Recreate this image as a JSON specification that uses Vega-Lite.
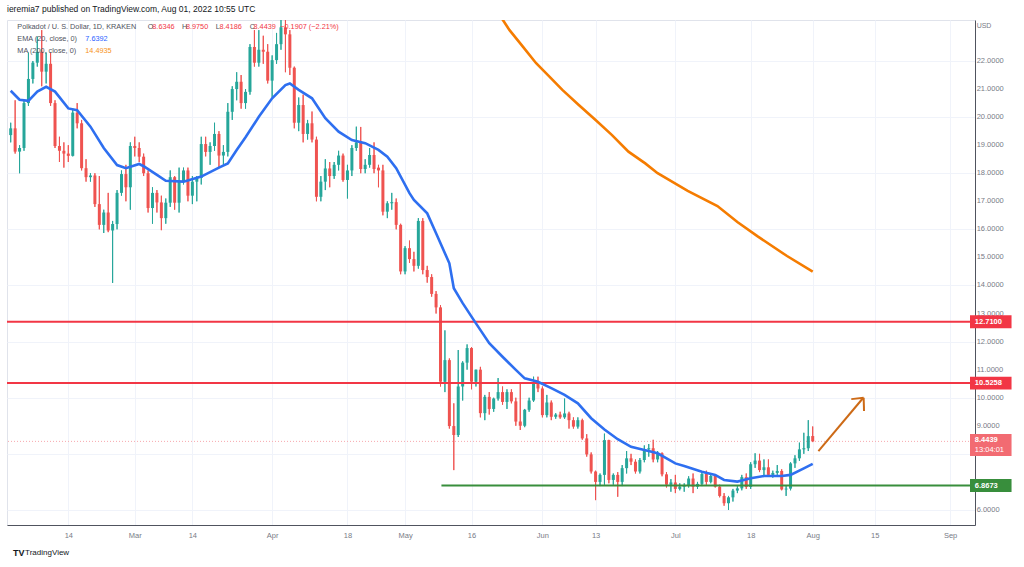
{
"$schema": "https://vega.github.io/schema/vega-lite/v6.json",
"width": 968, "height": 505,
"autosize": "none",
"padding": {"left": 7, "top": 20, "right": 49, "bottom": 42},
"background": "white",
"title": {"text": "ieremia7 published on TradingView.com, Aug 01, 2022 10:55 UTC", "anchor": "start", "frame": "group", "fontSize": 8.5, "fontWeight": "normal", "font": "Liberation Sans", "color": "#131722", "offset": 7},
"config": {
  "view": {"stroke": "#e0e3eb"},
  "axis": {"zindex": 0, "labelFont": "Liberation Sans", "labelFontSize": 7.5, "labelColor": "#787b86", "gridColor": "#f0f3fa", "gridWidth": 1, "domainColor": "#50535e", "ticks": false},
  "text": {"font": "Liberation Sans"}
},
"datasets": {
"yticks": [{"t":6},{"t":9},{"t":10},{"t":11},{"t":12},{"t":13},{"t":14},{"t":15},{"t":16},{"t":17},{"t":18},{"t":19},{"t":20},{"t":21},{"t":22}],
"candles": [
{"d":"2022-02-01","o":19.36,"h":19.8,"l":19.1,"c":19.6},
{"d":"2022-02-02","o":19.6,"h":20.6,"l":18.7,"c":18.77},
{"d":"2022-02-03","o":18.77,"h":19.0,"l":18.0,"c":18.9},
{"d":"2022-02-04","o":18.9,"h":20.6,"l":18.8,"c":20.5},
{"d":"2022-02-05","o":20.5,"h":22.3,"l":20.4,"c":21.36},
{"d":"2022-02-06","o":21.36,"h":22.0,"l":21.2,"c":21.94},
{"d":"2022-02-07","o":21.94,"h":22.87,"l":21.8,"c":22.33},
{"d":"2022-02-08","o":22.33,"h":23.1,"l":21.1,"c":21.62},
{"d":"2022-02-09","o":21.62,"h":22.3,"l":21.2,"c":21.9},
{"d":"2022-02-10","o":21.9,"h":22.3,"l":20.4,"c":20.5},
{"d":"2022-02-11","o":20.5,"h":20.6,"l":18.9,"c":18.97},
{"d":"2022-02-12","o":18.97,"h":19.3,"l":18.4,"c":18.8},
{"d":"2022-02-13","o":18.8,"h":19.1,"l":18.2,"c":18.7},
{"d":"2022-02-14","o":18.7,"h":19.0,"l":18.4,"c":18.62},
{"d":"2022-02-15","o":18.62,"h":20.3,"l":18.6,"c":20.16},
{"d":"2022-02-16","o":20.16,"h":20.5,"l":19.6,"c":19.78},
{"d":"2022-02-17","o":19.78,"h":19.9,"l":18.1,"c":18.18},
{"d":"2022-02-18","o":18.18,"h":18.5,"l":17.7,"c":17.86},
{"d":"2022-02-19","o":17.86,"h":18.0,"l":17.7,"c":17.92},
{"d":"2022-02-20","o":17.92,"h":18.0,"l":16.8,"c":16.9},
{"d":"2022-02-21","o":16.9,"h":17.9,"l":16.0,"c":16.16},
{"d":"2022-02-22","o":16.16,"h":16.7,"l":15.87,"c":16.6},
{"d":"2022-02-23","o":16.6,"h":17.3,"l":15.9,"c":15.96},
{"d":"2022-02-24","o":15.96,"h":16.3,"l":14.09,"c":16.19},
{"d":"2022-02-25","o":16.19,"h":17.4,"l":16.0,"c":17.3},
{"d":"2022-02-26","o":17.3,"h":18.1,"l":17.2,"c":17.97},
{"d":"2022-02-27","o":17.97,"h":18.3,"l":17.0,"c":17.5},
{"d":"2022-02-28","o":17.5,"h":19.1,"l":16.7,"c":18.97},
{"d":"2022-03-01","o":18.97,"h":19.3,"l":18.6,"c":18.9},
{"d":"2022-03-02","o":18.9,"h":19.1,"l":18.4,"c":18.59},
{"d":"2022-03-03","o":18.59,"h":18.7,"l":17.9,"c":18.0},
{"d":"2022-03-04","o":18.0,"h":18.1,"l":16.6,"c":16.76},
{"d":"2022-03-05","o":16.76,"h":17.5,"l":16.2,"c":17.3},
{"d":"2022-03-06","o":17.3,"h":17.4,"l":16.6,"c":16.96},
{"d":"2022-03-07","o":16.96,"h":17.2,"l":15.97,"c":16.4},
{"d":"2022-03-08","o":16.4,"h":17.1,"l":16.2,"c":16.95},
{"d":"2022-03-09","o":16.95,"h":18.1,"l":16.8,"c":17.86},
{"d":"2022-03-10","o":17.86,"h":17.9,"l":16.7,"c":16.95},
{"d":"2022-03-11","o":16.95,"h":18.2,"l":16.6,"c":17.7},
{"d":"2022-03-12","o":17.7,"h":18.2,"l":17.6,"c":18.1},
{"d":"2022-03-13","o":18.1,"h":18.2,"l":17.0,"c":17.2},
{"d":"2022-03-14","o":17.2,"h":17.9,"l":16.9,"c":17.7},
{"d":"2022-03-15","o":17.7,"h":17.9,"l":17.0,"c":17.83},
{"d":"2022-03-16","o":17.83,"h":19.3,"l":17.6,"c":19.04},
{"d":"2022-03-17","o":19.04,"h":19.3,"l":18.6,"c":18.76},
{"d":"2022-03-18","o":18.76,"h":19.1,"l":18.3,"c":18.97},
{"d":"2022-03-19","o":18.97,"h":19.8,"l":18.8,"c":19.4},
{"d":"2022-03-20","o":19.4,"h":19.5,"l":18.2,"c":18.63},
{"d":"2022-03-21","o":18.63,"h":19.0,"l":18.3,"c":18.76},
{"d":"2022-03-22","o":18.76,"h":20.5,"l":18.6,"c":20.19},
{"d":"2022-03-23","o":20.19,"h":21.1,"l":19.9,"c":21.0},
{"d":"2022-03-24","o":21.0,"h":21.6,"l":20.6,"c":21.26},
{"d":"2022-03-25","o":21.26,"h":21.5,"l":20.3,"c":20.5},
{"d":"2022-03-26","o":20.5,"h":21.0,"l":20.3,"c":20.9},
{"d":"2022-03-27","o":20.9,"h":22.6,"l":20.8,"c":22.5},
{"d":"2022-03-28","o":22.5,"h":23.1,"l":21.8,"c":21.94},
{"d":"2022-03-29","o":21.94,"h":23.1,"l":21.8,"c":22.4},
{"d":"2022-03-30","o":22.4,"h":22.9,"l":21.9,"c":22.33},
{"d":"2022-03-31","o":22.33,"h":22.6,"l":21.2,"c":21.3},
{"d":"2022-04-01","o":21.3,"h":22.2,"l":20.7,"c":22.03},
{"d":"2022-04-02","o":22.03,"h":23.0,"l":21.9,"c":22.6},
{"d":"2022-04-03","o":22.6,"h":23.5,"l":22.4,"c":23.2},
{"d":"2022-04-04","o":23.2,"h":23.6,"l":21.6,"c":22.95},
{"d":"2022-04-05","o":22.95,"h":23.1,"l":21.5,"c":21.76},
{"d":"2022-04-06","o":21.76,"h":21.8,"l":19.6,"c":19.8},
{"d":"2022-04-07","o":19.8,"h":20.7,"l":19.5,"c":20.43},
{"d":"2022-04-08","o":20.43,"h":20.8,"l":19.1,"c":19.4},
{"d":"2022-04-09","o":19.4,"h":19.9,"l":19.2,"c":19.78},
{"d":"2022-04-10","o":19.78,"h":20.2,"l":19.1,"c":19.2},
{"d":"2022-04-11","o":19.2,"h":19.3,"l":17.0,"c":17.16},
{"d":"2022-04-12","o":17.16,"h":17.9,"l":17.0,"c":17.7},
{"d":"2022-04-13","o":17.7,"h":18.5,"l":17.4,"c":18.17},
{"d":"2022-04-14","o":18.17,"h":18.4,"l":17.5,"c":17.9},
{"d":"2022-04-15","o":17.9,"h":18.4,"l":17.8,"c":18.3},
{"d":"2022-04-16","o":18.3,"h":18.8,"l":18.1,"c":18.63},
{"d":"2022-04-17","o":18.63,"h":18.7,"l":17.7,"c":17.76},
{"d":"2022-04-18","o":17.76,"h":18.3,"l":17.1,"c":18.1},
{"d":"2022-04-19","o":18.1,"h":19.0,"l":17.9,"c":18.9},
{"d":"2022-04-20","o":18.9,"h":19.66,"l":18.8,"c":19.1},
{"d":"2022-04-21","o":19.1,"h":19.65,"l":18.0,"c":18.15},
{"d":"2022-04-22","o":18.15,"h":18.5,"l":18.0,"c":18.3},
{"d":"2022-04-23","o":18.3,"h":18.9,"l":18.2,"c":18.65},
{"d":"2022-04-24","o":18.65,"h":19.1,"l":18.0,"c":18.15},
{"d":"2022-04-25","o":18.2,"h":18.3,"l":17.5,"c":18.1},
{"d":"2022-04-26","o":18.1,"h":18.3,"l":16.5,"c":16.63},
{"d":"2022-04-27","o":16.63,"h":17.0,"l":16.4,"c":16.93},
{"d":"2022-04-28","o":16.93,"h":17.3,"l":16.7,"c":16.97},
{"d":"2022-04-29","o":16.97,"h":17.1,"l":16.0,"c":16.16},
{"d":"2022-04-30","o":16.16,"h":16.2,"l":14.4,"c":14.5},
{"d":"2022-05-01","o":14.5,"h":15.4,"l":14.4,"c":15.33},
{"d":"2022-05-02","o":15.33,"h":15.6,"l":14.8,"c":14.94},
{"d":"2022-05-03","o":14.94,"h":15.2,"l":14.5,"c":14.7},
{"d":"2022-05-04","o":14.7,"h":16.4,"l":14.6,"c":16.3},
{"d":"2022-05-05","o":16.3,"h":16.4,"l":14.4,"c":14.55},
{"d":"2022-05-06","o":14.55,"h":14.7,"l":14.1,"c":14.3},
{"d":"2022-05-07","o":14.3,"h":14.4,"l":13.6,"c":13.7},
{"d":"2022-05-08","o":13.7,"h":13.8,"l":13.0,"c":13.22},
{"d":"2022-05-09","o":13.22,"h":13.3,"l":10.4,"c":10.57},
{"d":"2022-05-10","o":10.57,"h":12.4,"l":10.2,"c":11.34},
{"d":"2022-05-11","o":11.34,"h":11.4,"l":8.9,"c":8.99},
{"d":"2022-05-12","o":8.99,"h":9.8,"l":7.42,"c":8.67},
{"d":"2022-05-13","o":8.67,"h":11.7,"l":8.6,"c":10.4},
{"d":"2022-05-14","o":10.4,"h":11.3,"l":9.9,"c":11.25},
{"d":"2022-05-15","o":11.25,"h":11.9,"l":11.0,"c":11.77},
{"d":"2022-05-16","o":11.77,"h":11.8,"l":10.3,"c":10.57},
{"d":"2022-05-17","o":10.57,"h":11.0,"l":10.4,"c":11.0},
{"d":"2022-05-18","o":11.0,"h":11.1,"l":9.3,"c":9.45},
{"d":"2022-05-19","o":9.45,"h":10.1,"l":9.2,"c":10.03},
{"d":"2022-05-20","o":10.03,"h":10.2,"l":9.4,"c":9.6},
{"d":"2022-05-21","o":9.6,"h":10.0,"l":9.5,"c":9.97},
{"d":"2022-05-22","o":9.97,"h":10.7,"l":9.9,"c":10.2},
{"d":"2022-05-23","o":10.2,"h":10.4,"l":9.75,"c":9.85},
{"d":"2022-05-24","o":9.85,"h":10.3,"l":9.6,"c":10.2},
{"d":"2022-05-25","o":10.2,"h":10.3,"l":9.8,"c":9.87},
{"d":"2022-05-26","o":9.87,"h":10.0,"l":9.0,"c":9.15},
{"d":"2022-05-27","o":9.15,"h":10.5,"l":8.85,"c":9.0},
{"d":"2022-05-28","o":9.0,"h":9.6,"l":8.95,"c":9.57},
{"d":"2022-05-29","o":9.57,"h":10.0,"l":9.5,"c":9.9},
{"d":"2022-05-30","o":9.9,"h":10.75,"l":9.85,"c":10.53},
{"d":"2022-05-31","o":10.53,"h":10.75,"l":10.2,"c":10.33},
{"d":"2022-06-01","o":10.33,"h":10.4,"l":9.3,"c":9.38},
{"d":"2022-06-02","o":9.38,"h":10.1,"l":9.3,"c":9.83},
{"d":"2022-06-03","o":9.83,"h":9.9,"l":9.2,"c":9.32},
{"d":"2022-06-04","o":9.32,"h":9.45,"l":9.25,"c":9.4},
{"d":"2022-06-05","o":9.4,"h":9.5,"l":9.25,"c":9.3},
{"d":"2022-06-06","o":9.3,"h":9.97,"l":9.25,"c":9.44},
{"d":"2022-06-07","o":9.44,"h":9.5,"l":8.9,"c":9.2},
{"d":"2022-06-08","o":9.2,"h":9.3,"l":8.9,"c":8.97},
{"d":"2022-06-09","o":8.97,"h":9.3,"l":8.9,"c":9.2},
{"d":"2022-06-10","o":9.2,"h":9.25,"l":8.5,"c":8.55},
{"d":"2022-06-11","o":8.55,"h":8.7,"l":7.9,"c":7.98},
{"d":"2022-06-12","o":7.98,"h":8.05,"l":7.3,"c":7.37},
{"d":"2022-06-13","o":7.37,"h":7.4,"l":6.35,"c":7.0},
{"d":"2022-06-14","o":7.0,"h":7.3,"l":6.85,"c":7.25},
{"d":"2022-06-15","o":7.25,"h":8.72,"l":6.9,"c":8.49},
{"d":"2022-06-16","o":8.49,"h":8.5,"l":6.95,"c":7.07},
{"d":"2022-06-17","o":7.07,"h":7.3,"l":6.9,"c":7.25},
{"d":"2022-06-18","o":7.25,"h":7.35,"l":6.47,"c":7.0},
{"d":"2022-06-19","o":7.0,"h":7.6,"l":6.85,"c":7.49},
{"d":"2022-06-20","o":7.49,"h":8.1,"l":7.3,"c":7.84},
{"d":"2022-06-21","o":7.84,"h":8.0,"l":7.6,"c":7.72},
{"d":"2022-06-22","o":7.72,"h":7.8,"l":7.3,"c":7.37},
{"d":"2022-06-23","o":7.37,"h":7.85,"l":7.3,"c":7.78},
{"d":"2022-06-24","o":7.78,"h":8.3,"l":7.7,"c":8.16},
{"d":"2022-06-25","o":8.16,"h":8.35,"l":7.9,"c":8.2},
{"d":"2022-06-26","o":8.2,"h":8.5,"l":7.7,"c":7.8},
{"d":"2022-06-27","o":7.8,"h":8.1,"l":7.7,"c":8.02},
{"d":"2022-06-28","o":8.02,"h":8.05,"l":7.2,"c":7.27},
{"d":"2022-06-29","o":7.27,"h":7.35,"l":6.8,"c":6.9},
{"d":"2022-06-30","o":6.9,"h":7.1,"l":6.65,"c":6.98},
{"d":"2022-07-01","o":6.98,"h":7.25,"l":6.6,"c":6.75},
{"d":"2022-07-02","o":6.75,"h":6.95,"l":6.7,"c":6.83},
{"d":"2022-07-03","o":6.83,"h":6.95,"l":6.65,"c":6.86},
{"d":"2022-07-04","o":6.86,"h":7.2,"l":6.8,"c":7.12},
{"d":"2022-07-05","o":7.12,"h":7.3,"l":6.6,"c":6.83},
{"d":"2022-07-06","o":6.83,"h":7.0,"l":6.75,"c":6.93},
{"d":"2022-07-07","o":6.93,"h":7.35,"l":6.85,"c":7.28},
{"d":"2022-07-08","o":7.28,"h":7.4,"l":6.9,"c":7.0},
{"d":"2022-07-09","o":7.0,"h":7.3,"l":6.95,"c":7.21},
{"d":"2022-07-10","o":7.21,"h":7.25,"l":6.8,"c":6.83},
{"d":"2022-07-11","o":6.83,"h":6.9,"l":6.45,"c":6.5},
{"d":"2022-07-12","o":6.5,"h":6.6,"l":6.15,"c":6.24},
{"d":"2022-07-13","o":6.24,"h":6.5,"l":6.0,"c":6.45},
{"d":"2022-07-14","o":6.45,"h":6.75,"l":6.3,"c":6.69},
{"d":"2022-07-15","o":6.69,"h":6.85,"l":6.6,"c":6.77},
{"d":"2022-07-16","o":6.77,"h":7.25,"l":6.7,"c":7.17},
{"d":"2022-07-17","o":7.17,"h":7.3,"l":6.75,"c":6.82},
{"d":"2022-07-18","o":6.82,"h":7.7,"l":6.75,"c":7.63},
{"d":"2022-07-19","o":7.63,"h":8.02,"l":7.5,"c":7.76},
{"d":"2022-07-20","o":7.76,"h":8.0,"l":7.35,"c":7.42},
{"d":"2022-07-21","o":7.42,"h":7.8,"l":7.2,"c":7.52},
{"d":"2022-07-22","o":7.52,"h":7.8,"l":7.2,"c":7.25},
{"d":"2022-07-23","o":7.25,"h":7.4,"l":7.15,"c":7.32},
{"d":"2022-07-24","o":7.32,"h":7.6,"l":7.25,"c":7.39},
{"d":"2022-07-25","o":7.39,"h":7.45,"l":6.7,"c":6.73},
{"d":"2022-07-26","o":6.73,"h":6.85,"l":6.5,"c":6.76},
{"d":"2022-07-27","o":6.76,"h":7.7,"l":6.7,"c":7.66},
{"d":"2022-07-28","o":7.66,"h":7.95,"l":7.5,"c":7.84},
{"d":"2022-07-29","o":7.84,"h":8.4,"l":7.75,"c":8.16},
{"d":"2022-07-30","o":8.16,"h":8.75,"l":8.0,"c":8.2},
{"d":"2022-07-31","o":8.2,"h":9.2,"l":8.1,"c":8.63},
{"d":"2022-08-01","o":8.6346,"h":8.975,"l":8.4186,"c":8.4439}
],
"ema": [
{"d":"2022-02-01","v":20.94},{"d":"2022-02-03","v":20.62},{"d":"2022-02-05","v":20.58},{"d":"2022-02-07","v":20.91},
{"d":"2022-02-09","v":21.08},{"d":"2022-02-11","v":20.91},{"d":"2022-02-14","v":20.31},{"d":"2022-02-16","v":20.25},
{"d":"2022-02-19","v":19.66},{"d":"2022-02-22","v":18.9},{"d":"2022-02-25","v":18.29},{"d":"2022-02-27","v":18.18},
{"d":"2022-03-02","v":18.33},{"d":"2022-03-03","v":18.25},{"d":"2022-03-06","v":17.94},{"d":"2022-03-08","v":17.73},
{"d":"2022-03-12","v":17.7},{"d":"2022-03-16","v":17.88},{"d":"2022-03-20","v":18.2},{"d":"2022-03-22","v":18.35},
{"d":"2022-03-24","v":18.83},{"d":"2022-03-26","v":19.28},{"d":"2022-03-29","v":20.01},{"d":"2022-04-01","v":20.67},
{"d":"2022-04-04","v":21.14},{"d":"2022-04-05","v":21.2},{"d":"2022-04-07","v":20.97},{"d":"2022-04-10","v":20.67},
{"d":"2022-04-13","v":19.96},{"d":"2022-04-16","v":19.48},{"d":"2022-04-19","v":19.18},{"d":"2022-04-22","v":19.07},
{"d":"2022-04-25","v":18.83},{"d":"2022-04-27","v":18.59},{"d":"2022-04-29","v":18.18},{"d":"2022-05-02","v":17.29},
{"d":"2022-05-03","v":17.05},{"d":"2022-05-06","v":16.57},{"d":"2022-05-08","v":15.86},{"d":"2022-05-11","v":14.79},
{"d":"2022-05-12","v":13.9},{"d":"2022-05-14","v":13.37},{"d":"2022-05-17","v":12.65},{"d":"2022-05-20","v":11.94},
{"d":"2022-05-23","v":11.46},{"d":"2022-05-26","v":10.99},{"d":"2022-05-28","v":10.69},{"d":"2022-05-31","v":10.57},
{"d":"2022-06-03","v":10.34},{"d":"2022-06-06","v":10.1},{"d":"2022-06-09","v":9.8},{"d":"2022-06-12","v":9.27},
{"d":"2022-06-15","v":8.87},{"d":"2022-06-18","v":8.52},{"d":"2022-06-21","v":8.25},{"d":"2022-06-24","v":8.14},
{"d":"2022-06-27","v":8.02},{"d":"2022-07-01","v":7.66},{"d":"2022-07-03","v":7.57},{"d":"2022-07-07","v":7.36},
{"d":"2022-07-10","v":7.25},{"d":"2022-07-12","v":7.07},{"d":"2022-07-15","v":7.01},{"d":"2022-07-18","v":7.13},
{"d":"2022-07-21","v":7.21},{"d":"2022-07-25","v":7.21},{"d":"2022-07-27","v":7.25},{"d":"2022-07-30","v":7.48},
{"d":"2022-08-01","v":7.64}
],
"ma": [
{"d":"2022-05-21T00:00:00Z","v":23.85},{"d":"2022-05-23T02:00:00Z","v":23.46},{"d":"2022-05-24T14:00:00Z","v":23.1},
{"d":"2022-05-27T14:00:00Z","v":22.51},{"d":"2022-05-30T14:00:00Z","v":21.92},{"d":"2022-06-02T14:00:00Z","v":21.44},
{"d":"2022-06-05T12:00:00Z","v":20.97},{"d":"2022-06-09T05:00:00Z","v":20.43},{"d":"2022-06-13T00:00:00Z","v":19.9},
{"d":"2022-06-16T17:00:00Z","v":19.36},{"d":"2022-06-20T10:00:00Z","v":18.77},{"d":"2022-06-24T05:00:00Z","v":18.35},
{"d":"2022-06-27T00:00:00Z","v":18.0},{"d":"2022-07-03T19:00:00Z","v":17.37},{"d":"2022-07-10T12:00:00Z","v":16.83},
{"d":"2022-07-15T00:00:00Z","v":16.26},{"d":"2022-07-19T12:00:00Z","v":15.76},{"d":"2022-07-26T05:00:00Z","v":15.05},
{"d":"2022-08-01T00:00:00Z","v":14.49}
]
},
"layer": [
{"data": {"name": "candles"}, "mark": {"type": "rule", "strokeWidth": 1, "clip": true},
 "encoding": {
  "x": {"field": "d", "type": "temporal", "title": null,
    "scale": {"type": "utc", "domain": [{"year":2022,"month":2,"date":1,"hours":7,"utc":true}, {"year":2022,"month":9,"date":5,"hours":12,"utc":true}]},
    "axis": {"title": null, "grid": true, "domain": true, "labelPadding": 6,
      "values": [{"year":2022,"month":2,"date":14,"utc":true},{"year":2022,"month":3,"date":1,"utc":true},{"year":2022,"month":3,"date":14,"utc":true},{"year":2022,"month":4,"date":1,"utc":true},{"year":2022,"month":4,"date":18,"utc":true},{"year":2022,"month":5,"date":1,"utc":true},{"year":2022,"month":5,"date":16,"utc":true},{"year":2022,"month":6,"date":1,"utc":true},{"year":2022,"month":6,"date":13,"utc":true},{"year":2022,"month":7,"date":1,"utc":true},{"year":2022,"month":7,"date":18,"utc":true},{"year":2022,"month":8,"date":1,"utc":true},{"year":2022,"month":8,"date":15,"utc":true},{"year":2022,"month":9,"date":1,"utc":true}],
      "labelExpr": "utcdate(datum.value) == 1 ? utcFormat(datum.value, '%b') : utcFormat(datum.value, '%d')"}},
  "y": {"field": "l", "type": "quantitative", "title": null,
    "scale": {"domain": [5.464, 23.461], "nice": false, "zero": false},
    "axis": {"title": null, "orient": "right", "grid": true, "domain": true, "labels": false,
      "values": [6,7,8,9,10,11,12,13,14,15,16,17,18,19,20,21,22,23]}},
  "y2": {"field": "h"},
  "color": {"condition": {"test": "datum.o <= datum.c", "value": "#26a69a"}, "value": "#ef5350"}
 }},
{"data": {"values": [{}]}, "mark": {"type": "rule", "color": "#f7a8ae", "strokeWidth": 1, "strokeDash": [1, 2]},
 "encoding": {"y": {"datum": 8.4439, "type": "quantitative"}}},
{"data": {"name": "candles"}, "mark": {"type": "rule", "strokeWidth": 1, "clip": true},
 "encoding": {
  "x": {"field": "d", "type": "temporal", "title": null},
  "y": {"field": "l", "type": "quantitative", "title": null},
  "y2": {"field": "h"},
  "color": {"condition": {"test": "datum.o <= datum.c", "value": "#26a69a"}, "value": "#ef5350"}
 }},
{"data": {"name": "candles"}, "mark": {"type": "bar", "size": 3, "clip": true},
 "encoding": {
  "x": {"field": "d", "type": "temporal", "title": null},
  "y": {"field": "o", "type": "quantitative", "title": null},
  "y2": {"field": "c"},
  "color": {"condition": {"test": "datum.o <= datum.c", "value": "#26a69a"}, "value": "#ef5350"}
 }},
{"data": {"values": [{}]}, "mark": {"type": "rule", "color": "#f23645", "strokeWidth": 2},
 "encoding": {"y": {"datum": 12.71, "type": "quantitative"}}},
{"data": {"values": [{}]}, "mark": {"type": "rule", "color": "#f23645", "strokeWidth": 2},
 "encoding": {"y": {"datum": 10.5258, "type": "quantitative"}}},
{"data": {"values": [{}]}, "mark": {"type": "rule", "color": "#388e3c", "strokeWidth": 2},
 "encoding": {"x": {"datum": {"year":2022,"month":5,"date":9,"hours":5,"utc":true}, "type": "temporal"}, "x2": {"datum": {"year":2022,"month":9,"date":5,"hours":12,"utc":true}},
   "y": {"datum": 6.8673, "type": "quantitative"}}},
{"data": {"name": "ema"}, "mark": {"type": "line", "color": "#2e6ff0", "strokeWidth": 2.6, "clip": true},
 "encoding": {"x": {"field": "d", "type": "temporal", "title": null}, "y": {"field": "v", "type": "quantitative", "title": null}}},
{"data": {"name": "ma"}, "mark": {"type": "line", "color": "#f57c00", "strokeWidth": 2.6, "clip": true},
 "encoding": {"x": {"field": "d", "type": "temporal", "title": null}, "y": {"field": "v", "type": "quantitative", "title": null}}},
{"data": {"values": [{}]}, "mark": {"type": "rule", "color": "#cd6a16", "strokeWidth": 2},
 "encoding": {"x": {"datum": {"year":2022,"month":8,"date":2,"hours":7,"utc":true}, "type": "temporal"}, "y": {"datum": 8.10, "type": "quantitative"},
   "x2": {"datum": {"year":2022,"month":8,"date":12,"hours":9,"utc":true}}, "y2": {"datum": 9.99}}},
{"data": {"values": [{}]}, "mark": {"type": "rule", "color": "#cd6a16", "strokeWidth": 2},
 "encoding": {"x": {"datum": {"year":2022,"month":8,"date":9,"hours":17,"utc":true}, "type": "temporal"}, "y": {"datum": 9.95, "type": "quantitative"},
   "x2": {"datum": {"year":2022,"month":8,"date":12,"hours":12,"utc":true}}, "y2": {"datum": 10.0}}},
{"data": {"values": [{}]}, "mark": {"type": "rule", "color": "#cd6a16", "strokeWidth": 2},
 "encoding": {"x": {"datum": {"year":2022,"month":8,"date":12,"hours":14,"utc":true}, "type": "temporal"}, "y": {"datum": 9.53, "type": "quantitative"},
   "x2": {"datum": {"year":2022,"month":8,"date":12,"hours":12,"utc":true}}, "y2": {"datum": 10.0}}},
{"data": {"name": "yticks"}, "mark": {"type": "text", "color": "#787b86", "fontSize": 7.5, "align": "left", "baseline": "middle"},
 "encoding": {"x": {"datum": {"year":2022,"month":9,"date":7,"hours":0,"utc":true}, "type": "temporal"}, "y": {"field": "t", "type": "quantitative", "title": null}, "text": {"field": "t", "type": "quantitative", "format": ".4f"}}},
{"data": {"values": [{}]}, "mark": {"type": "rect", "color": "#f23645"},
 "encoding": {"x": {"datum": {"year":2022,"month":9,"date":5,"hours":12,"utc":true}, "type": "temporal"}, "x2": {"datum": {"year":2022,"month":9,"date":14,"hours":21,"utc":true}},
   "y": {"datum": 12.94, "type": "quantitative"}, "y2": {"datum": 12.48}}},
{"data": {"values": [{}]}, "mark": {"type": "rect", "color": "#f23645"},
 "encoding": {"x": {"datum": {"year":2022,"month":9,"date":5,"hours":12,"utc":true}, "type": "temporal"}, "x2": {"datum": {"year":2022,"month":9,"date":14,"hours":21,"utc":true}},
   "y": {"datum": 10.75, "type": "quantitative"}, "y2": {"datum": 10.29}}},
{"data": {"values": [{}]}, "mark": {"type": "rect", "color": "#f26b72"},
 "encoding": {"x": {"datum": {"year":2022,"month":9,"date":5,"hours":12,"utc":true}, "type": "temporal"}, "x2": {"datum": {"year":2022,"month":9,"date":14,"hours":21,"utc":true}},
   "y": {"datum": 8.71, "type": "quantitative"}, "y2": {"datum": 7.92}}},
{"data": {"values": [{}]}, "mark": {"type": "rect", "color": "#388e3c"},
 "encoding": {"x": {"datum": {"year":2022,"month":9,"date":5,"hours":12,"utc":true}, "type": "temporal"}, "x2": {"datum": {"year":2022,"month":9,"date":14,"hours":21,"utc":true}},
   "y": {"datum": 7.10, "type": "quantitative"}, "y2": {"datum": 6.64}}},
{"data": {"values": [{}]}, "mark": {"type": "text", "color": "white", "fontSize": 7.5, "fontWeight": "bold", "align": "left", "baseline": "middle"},
 "encoding": {"x": {"datum": {"year":2022,"month":9,"date":6,"hours":14,"utc":true}, "type": "temporal"}, "y": {"datum": 12.71, "type": "quantitative"}, "text": {"value": "12.7100"}}},
{"data": {"values": [{}]}, "mark": {"type": "text", "color": "white", "fontSize": 7.5, "fontWeight": "bold", "align": "left", "baseline": "middle"},
 "encoding": {"x": {"datum": {"year":2022,"month":9,"date":6,"hours":14,"utc":true}, "type": "temporal"}, "y": {"datum": 10.5258, "type": "quantitative"}, "text": {"value": "10.5258"}}},
{"data": {"values": [{}]}, "mark": {"type": "text", "color": "white", "fontSize": 7.5, "fontWeight": "bold", "align": "left", "baseline": "middle"},
 "encoding": {"x": {"datum": {"year":2022,"month":9,"date":6,"hours":14,"utc":true}, "type": "temporal"}, "y": {"datum": 8.5, "type": "quantitative"}, "text": {"value": "8.4439"}}},
{"data": {"values": [{}]}, "mark": {"type": "text", "color": "white", "fontSize": 7.5, "align": "left", "baseline": "middle"},
 "encoding": {"x": {"datum": {"year":2022,"month":9,"date":6,"hours":14,"utc":true}, "type": "temporal"}, "y": {"datum": 8.14, "type": "quantitative"}, "text": {"value": "13:04:01"}}},
{"data": {"values": [{}]}, "mark": {"type": "text", "color": "white", "fontSize": 7.5, "fontWeight": "bold", "align": "left", "baseline": "middle"},
 "encoding": {"x": {"datum": {"year":2022,"month":9,"date":6,"hours":14,"utc":true}, "type": "temporal"}, "y": {"datum": 6.8673, "type": "quantitative"}, "text": {"value": "6.8673"}}},
{"data": {"values": [{}]}, "mark": {"type": "text", "color": "#787b86", "fontSize": 7, "align": "left", "baseline": "middle"},
 "encoding": {"x": {"datum": {"year":2022,"month":9,"date":7,"hours":0,"utc":true}, "type": "temporal"}, "y": {"datum": 23.25, "type": "quantitative"}, "text": {"value": "USD"}}},
{"data": {"values": [{}]}, "mark": {"type": "text", "color": "#50535e", "fontSize": 7.3, "align": "left", "baseline": "middle"},
 "encoding": {"x": {"datum": {"year":2022,"month":2,"date":2,"hours":12,"utc":true}, "type": "temporal"}, "y": {"datum": 23.22, "type": "quantitative"}, "text": {"value": "Polkadot / U. S. Dollar, 1D, KRAKEN"}}},
{"data": {"values": [{}]}, "mark": {"type": "text", "color": "#50535e", "fontSize": 7.3, "align": "left", "baseline": "middle"},
 "encoding": {"x": {"datum": {"year":2022,"month":3,"date":3,"hours":22,"utc":true}, "type": "temporal"}, "y": {"datum": 23.22, "type": "quantitative"}, "text": {"value": "O"}}},
{"data": {"values": [{}]}, "mark": {"type": "text", "color": "#f23645", "fontSize": 7.3, "align": "left", "baseline": "middle"},
 "encoding": {"x": {"datum": {"year":2022,"month":3,"date":4,"hours":23,"utc":true}, "type": "temporal"}, "y": {"datum": 23.22, "type": "quantitative"}, "text": {"value": "8.6346"}}},
{"data": {"values": [{}]}, "mark": {"type": "text", "color": "#50535e", "fontSize": 7.3, "align": "left", "baseline": "middle"},
 "encoding": {"x": {"datum": {"year":2022,"month":3,"date":11,"hours":16,"utc":true}, "type": "temporal"}, "y": {"datum": 23.22, "type": "quantitative"}, "text": {"value": "H"}}},
{"data": {"values": [{}]}, "mark": {"type": "text", "color": "#f23645", "fontSize": 7.3, "align": "left", "baseline": "middle"},
 "encoding": {"x": {"datum": {"year":2022,"month":3,"date":12,"hours":13,"utc":true}, "type": "temporal"}, "y": {"datum": 23.22, "type": "quantitative"}, "text": {"value": "8.9750"}}},
{"data": {"values": [{}]}, "mark": {"type": "text", "color": "#50535e", "fontSize": 7.3, "align": "left", "baseline": "middle"},
 "encoding": {"x": {"datum": {"year":2022,"month":3,"date":19,"hours":6,"utc":true}, "type": "temporal"}, "y": {"datum": 23.22, "type": "quantitative"}, "text": {"value": "L"}}},
{"data": {"values": [{}]}, "mark": {"type": "text", "color": "#f23645", "fontSize": 7.3, "align": "left", "baseline": "middle"},
 "encoding": {"x": {"datum": {"year":2022,"month":3,"date":20,"hours":3,"utc":true}, "type": "temporal"}, "y": {"datum": 23.22, "type": "quantitative"}, "text": {"value": "8.4186"}}},
{"data": {"values": [{}]}, "mark": {"type": "text", "color": "#50535e", "fontSize": 7.3, "align": "left", "baseline": "middle"},
 "encoding": {"x": {"datum": {"year":2022,"month":3,"date":26,"hours":23,"utc":true}, "type": "temporal"}, "y": {"datum": 23.22, "type": "quantitative"}, "text": {"value": "C"}}},
{"data": {"values": [{}]}, "mark": {"type": "text", "color": "#f23645", "fontSize": 7.3, "align": "left", "baseline": "middle"},
 "encoding": {"x": {"datum": {"year":2022,"month":3,"date":27,"hours":19,"utc":true}, "type": "temporal"}, "y": {"datum": 23.22, "type": "quantitative"}, "text": {"value": "8.4439"}}},
{"data": {"values": [{}]}, "mark": {"type": "text", "color": "#f23645", "fontSize": 7.3, "align": "left", "baseline": "middle"},
 "encoding": {"x": {"datum": {"year":2022,"month":4,"date":2,"hours":20,"utc":true}, "type": "temporal"}, "y": {"datum": 23.22, "type": "quantitative"}, "text": {"value": "−0.1907 (−2.21%)"}}},
{"data": {"values": [{}]}, "mark": {"type": "text", "color": "#50535e", "fontSize": 7.3, "align": "left", "baseline": "middle"},
 "encoding": {"x": {"datum": {"year":2022,"month":2,"date":2,"hours":12,"utc":true}, "type": "temporal"}, "y": {"datum": 22.78, "type": "quantitative"}, "text": {"value": "EMA (20, close, 0)"}}},
{"data": {"values": [{}]}, "mark": {"type": "text", "color": "#2962ff", "fontSize": 7.3, "align": "left", "baseline": "middle"},
 "encoding": {"x": {"datum": {"year":2022,"month":2,"date":17,"hours":20,"utc":true}, "type": "temporal"}, "y": {"datum": 22.78, "type": "quantitative"}, "text": {"value": "7.6392"}}},
{"data": {"values": [{}]}, "mark": {"type": "text", "color": "#50535e", "fontSize": 7.3, "align": "left", "baseline": "middle"},
 "encoding": {"x": {"datum": {"year":2022,"month":2,"date":2,"hours":12,"utc":true}, "type": "temporal"}, "y": {"datum": 22.37, "type": "quantitative"}, "text": {"value": "MA (200, close, 0)"}}},
{"data": {"values": [{}]}, "mark": {"type": "text", "color": "#f7931a", "fontSize": 7.3, "align": "left", "baseline": "middle"},
 "encoding": {"x": {"datum": {"year":2022,"month":2,"date":17,"hours":20,"utc":true}, "type": "temporal"}, "y": {"datum": 22.37, "type": "quantitative"}, "text": {"value": "14.4935"}}},
{"data": {"values": [{}]}, "mark": {"type": "text", "color": "#131722", "fontSize": 9, "fontWeight": "bold", "align": "left", "baseline": "middle"},
 "encoding": {"x": {"datum": {"year":2022,"month":2,"date":1,"hours":13,"utc":true}, "type": "temporal"}, "y": {"datum": 4.47, "type": "quantitative"}, "text": {"value": "TV"}}},
{"data": {"values": [{}]}, "mark": {"type": "text", "color": "#131722", "fontSize": 8, "align": "left", "baseline": "middle"},
 "encoding": {"x": {"datum": {"year":2022,"month":2,"date":4,"hours":6,"utc":true}, "type": "temporal"}, "y": {"datum": 4.47, "type": "quantitative"}, "text": {"value": "TradingView"}}}
]
}
